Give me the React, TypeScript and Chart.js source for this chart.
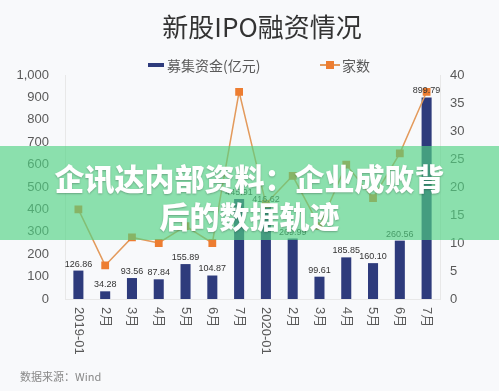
import React, { useEffect, useRef } from "react";
import { Chart, registerables } from "chart.js";

Chart.register(...registerables);

// ---- data ----
const categories = ["2019-01", "2月", "3月", "4月", "5月", "6月", "7月", "2020-01", "2月", "3月", "4月", "5月", "6月", "7月"];
const fundsRaised = [126.86, 34.28, 93.56, 87.84, 155.89, 104.87, 445.91, 416.62, 269.99, 99.61, 185.85, 160.1, 260.56, 899.79];
const ipoCount = [16, 6, 11, 10, 13, 10, 37, 17, 22, 13, 24, 18, 26, 37];
const leftAxis = { min: 0, max: 1000, step: 100 };
const rightAxis = { min: 0, max: 40, step: 5 };
const titleText = "新股IPO融资情况";
const legendBar = "募集资金(亿元)";
const legendLine = "家数";
const sourceText = "数据来源：Wind";
const bannerLine1 = "企讯达内部资料：企业成败背";
const bannerLine2 = "后的数据轨迹";

const FONT = "'Liberation Sans', 'Noto Sans CJK SC', sans-serif";
const CJK = "'Noto Sans CJK SC', 'Liberation Sans', sans-serif";
const NAVY = "#2E3B7C";
const ORANGE = "#ED7D31";

const rotatedLabels = {
  id: "rotatedLabels",
  afterDraw(chart: any) {
    const { ctx } = chart;
    const xs = chart.scales.x;
    const y0 = chart.chartArea.bottom + 8;
    ctx.save();
    ctx.font = `13px ${FONT}`;
    ctx.fillStyle = "#595959";
    ctx.textAlign = "left";
    ctx.textBaseline = "middle";
    categories.forEach((lab, i) => {
      const x = xs.getPixelForValue(i);
      ctx.save();
      ctx.translate(x, y0);
      ctx.rotate(Math.PI / 2);
      ctx.fillText(lab, 0, 0);
      ctx.restore();
    });
    ctx.restore();
  },
};

const barValueLabels = {
  id: "barValueLabels",
  afterDatasetsDraw(chart: any) {
    const { ctx } = chart;
    const meta = chart.getDatasetMeta(0);
    ctx.save();
    ctx.font = `9px ${FONT}`;
    ctx.fillStyle = "#333333";
    ctx.textAlign = "center";
    ctx.textBaseline = "bottom";
    meta.data.forEach((bar: any, i: number) => {
      ctx.fillText(fundsRaised[i].toFixed(2), bar.x, bar.y - 2);
    });
    ctx.restore();
  },
};

export default function App() {
  const ref = useRef<HTMLCanvasElement | null>(null);

  useEffect(() => {
    document.body.style.margin = "0";
    const canvas = ref.current;
    if (!canvas) return;
    const chart = new Chart(canvas, {
      type: "bar",
      data: {
        labels: categories,
        datasets: [
          {
            type: "bar",
            label: legendBar,
            data: fundsRaised,
            backgroundColor: NAVY,
            borderWidth: 0,
            barPercentage: 0.75,
            categoryPercentage: 0.5,
            yAxisID: "y",
            order: 2,
          } as any,
          {
            type: "line",
            label: legendLine,
            data: ipoCount,
            borderColor: "#E39A5C",
            borderWidth: 1.5,
            backgroundColor: ORANGE,
            pointBackgroundColor: ORANGE,
            pointBorderColor: ORANGE,
            pointStyle: "rect",
            pointRadius: 5.5,
            pointBorderWidth: 0,
            tension: 0,
            yAxisID: "y1",
            order: 1,
          } as any,
        ],
      },
      options: {
        animation: false,
        responsive: true,
        maintainAspectRatio: false,
        layout: { padding: { top: 75, bottom: 0, left: 0, right: 0 } },
        plugins: {
          legend: { display: false },
          title: { display: false },
          tooltip: { enabled: false },
        },
        scales: {
          x: {
            grid: { display: false, drawTicks: false },
            border: { display: true, color: "#e8e8e8" },
            ticks: { display: false },
            afterFit(scale: any) {
              scale.height = 92;
            },
          },
          y: {
            position: "left",
            min: leftAxis.min,
            max: leftAxis.max,
            grid: { display: false, drawTicks: false },
            border: { display: true, color: "#e8e8e8" },
            ticks: {
              stepSize: leftAxis.step,
              padding: 16,
              color: "#595959",
              font: { family: FONT, size: 13 },
            },
            afterFit(scale: any) {
              scale.width = 65;
            },
          },
          y1: {
            position: "right",
            min: rightAxis.min,
            max: rightAxis.max,
            grid: { display: false, drawTicks: false },
            border: { display: true, color: "#e8e8e8" },
            ticks: {
              stepSize: rightAxis.step,
              padding: 10,
              color: "#595959",
              font: { family: FONT, size: 13 },
            },
            afterFit(scale: any) {
              scale.width = 59;
            },
          },
        },
      },
      plugins: [rotatedLabels, barValueLabels],
    });
    return () => chart.destroy();
  }, []);

  return (
    <div
      style={{
        position: "fixed",
        left: 0,
        top: 0,
        width: 499,
        height: 391,
        background: "#f8f9fb",
        overflow: "hidden",
        fontFamily: CJK,
      }}
    >
      <canvas ref={ref} style={{ position: "absolute", left: 0, top: 0, width: 499, height: 391 }} />
      <div
        style={{
          position: "absolute",
          left: 0,
          top: 10,
          width: 499,
          paddingLeft: 25,
          boxSizing: "border-box",
          textAlign: "center",
          fontSize: 26,
          lineHeight: "32px",
          color: "#333",
          fontWeight: 400,
        }}
      >
        {titleText}
      </div>
      <div style={{ position: "absolute", left: 148, top: 56, height: 18, display: "flex", alignItems: "center", fontSize: 14, color: "#595959" }}>
        <span style={{ display: "inline-block", width: 16, height: 4, background: NAVY, marginRight: 3 }} />
        <span>{legendBar}</span>
      </div>
      <div style={{ position: "absolute", left: 320, top: 56, height: 18, display: "flex", alignItems: "center", fontSize: 14, color: "#595959" }}>
        <span style={{ position: "relative", display: "inline-block", width: 20, height: 10, marginRight: 2 }}>
          <span style={{ position: "absolute", left: 0, top: 4, width: 20, height: 2, background: "#E39A5C" }} />
          <span style={{ position: "absolute", left: 6, top: 1, width: 8, height: 8, background: ORANGE }} />
        </span>
        <span>{legendLine}</span>
      </div>
      <div style={{ position: "absolute", left: 20, top: 369, fontSize: 11, color: "#888", lineHeight: "14px" }}>{sourceText}</div>
      <div
        style={{
          position: "absolute",
          left: 0,
          top: 146,
          width: 499,
          height: 94,
          background: "rgba(80, 210, 130, 0.65)",
          boxSizing: "border-box",
          paddingTop: 12,
          textAlign: "center",
          color: "#fff",
          fontWeight: 900,
          fontSize: 30,
          lineHeight: "38px",
          textShadow: "0 1px 2px rgba(0,0,0,0.25)",
          whiteSpace: "nowrap",
        }}
      >
        {bannerLine1}
        <br />
        {bannerLine2}
      </div>
    </div>
  );
}
